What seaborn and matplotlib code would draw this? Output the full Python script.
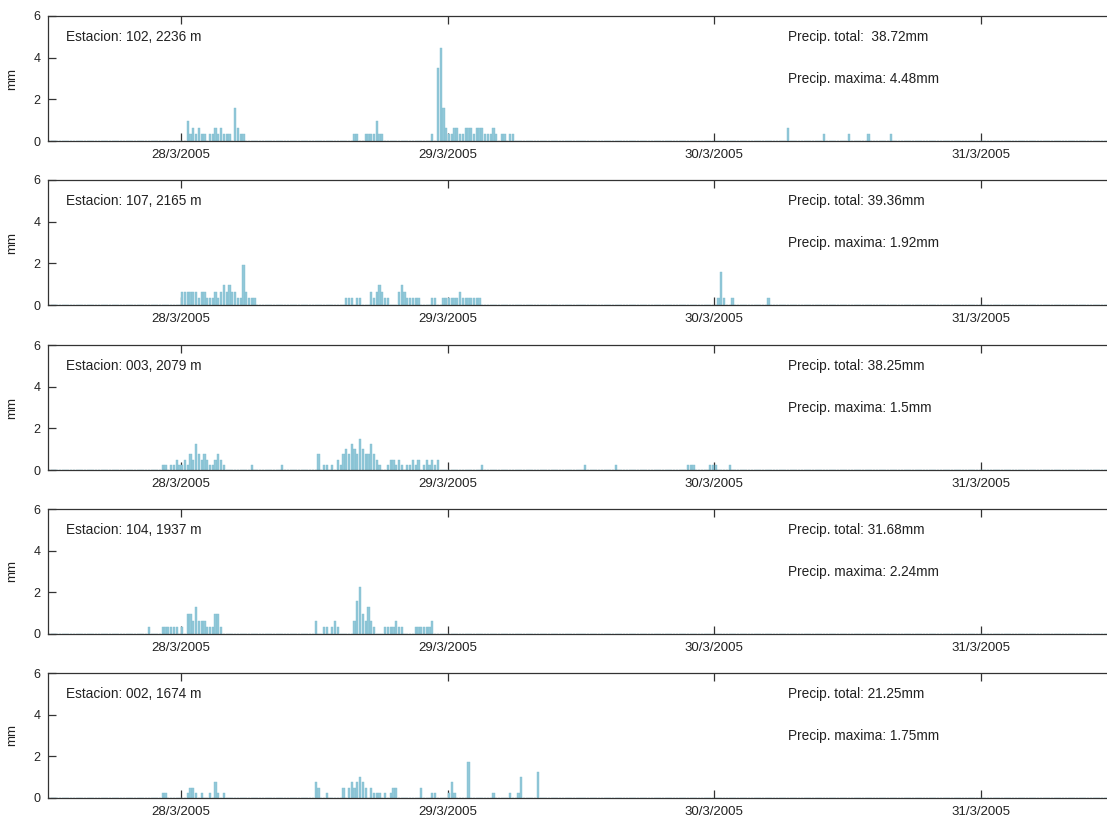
import numpy as np
import pandas as pd
import matplotlib
matplotlib.use("Agg")
import matplotlib.pyplot as plt
import seaborn as sns

# ---------------- data (hours since 28/3/2005 00:00, 15-min intervals) ----------------
stations = ["Estacion: 102, 2236 m", "Estacion: 107, 2165 m", "Estacion: 003, 2079 m",
            "Estacion: 104, 1937 m", "Estacion: 002, 1674 m"]
totals = ["Precip. total:  38.72mm", "Precip. total: 39.36mm", "Precip. total: 38.25mm",
          "Precip. total: 31.68mm", "Precip. total: 21.25mm"]
maxima = ["Precip. maxima: 4.48mm", "Precip. maxima: 1.92mm", "Precip. maxima: 1.5mm",
          "Precip. maxima: 2.24mm", "Precip. maxima: 1.75mm"]

t102 = [0.5, 0.75, 1.0, 1.25, 1.5, 1.75, 2.0, 2.5, 2.75, 3.0, 3.25, 3.5, 3.75, 4.0, 4.25,
        4.75, 5.0, 5.25, 5.5,
        15.5, 15.75, 16.5, 16.75, 17.0, 17.25, 17.5, 17.75, 18.0,
        22.5, 23.0, 23.25, 23.5, 23.75, 24.0, 24.25, 24.5, 24.75, 25.0, 25.25, 25.5, 25.75,
        26.0, 26.25, 26.5, 26.75, 27.0, 27.25, 27.5, 27.75, 28.0, 28.25, 28.75, 29.0, 29.5, 29.75,
        54.5, 57.75, 60.0, 61.75, 63.75]
v102 = [0.96, 0.32, 0.64, 0.32, 0.64, 0.32, 0.32, 0.32, 0.32, 0.64, 0.32, 0.64, 0.32, 0.32, 0.32,
        1.6, 0.64, 0.32, 0.32,
        0.32, 0.32, 0.32, 0.32, 0.32, 0.32, 0.96, 0.32, 0.32,
        0.32, 3.52, 4.48, 1.6, 0.64, 0.32, 0.32, 0.64, 0.64, 0.32, 0.32, 0.64, 0.64,
        0.64, 0.32, 0.64, 0.64, 0.64, 0.32, 0.32, 0.32, 0.64, 0.32, 0.32, 0.32, 0.32, 0.32,
        0.64, 0.32, 0.32, 0.32, 0.32]

t107 = [0.0, 0.25, 0.5, 0.75, 1.0, 1.25, 1.5, 1.75, 2.0, 2.25, 2.5, 2.75, 3.0, 3.25, 3.5, 3.75,
        4.0, 4.25, 4.5, 4.75, 5.0, 5.25, 5.5, 5.75, 6.0, 6.25, 6.5,
        14.75, 15.0, 15.25, 15.75, 16.0, 17.0, 17.25, 17.5, 17.75, 18.0, 18.25, 18.5,
        19.5, 19.75, 20.0, 20.25, 20.5, 20.75, 21.0, 21.25, 22.5, 22.75,
        23.5, 23.75, 24.0, 24.25, 24.5, 24.75, 25.0, 25.25, 25.5, 25.75, 26.0, 26.25, 26.5, 26.75,
        48.25, 48.5, 48.75, 49.5, 52.75]
v107 = [0.64, 0.64, 0.64, 0.64, 0.64, 0.64, 0.32, 0.64, 0.64, 0.32, 0.32, 0.32, 0.64, 0.32, 0.64, 0.96,
        0.64, 0.96, 0.64, 0.64, 0.32, 0.32, 1.92, 0.64, 0.32, 0.32, 0.32,
        0.32, 0.32, 0.32, 0.32, 0.32, 0.64, 0.32, 0.64, 0.96, 0.64, 0.32, 0.32,
        0.64, 0.96, 0.64, 0.32, 0.32, 0.32, 0.32, 0.32, 0.32, 0.32,
        0.32, 0.32, 0.32, 0.32, 0.32, 0.32, 0.64, 0.32, 0.32, 0.32, 0.32, 0.32, 0.32, 0.32,
        0.32, 1.6, 0.32, 0.32, 0.32]

t003 = [-1.75, -1.5, -1.0, -0.75, -0.5, -0.25, 0.0, 0.25, 0.5, 0.75, 1.0, 1.25, 1.5, 1.75, 2.0,
        2.25, 2.5, 2.75, 3.0, 3.25, 3.5, 3.75, 6.25, 9.0,
        12.25, 12.75, 13.0, 13.5, 14.0, 14.25, 14.5, 14.75, 15.0, 15.25, 15.5, 15.75, 16.0, 16.25,
        16.5, 16.75, 17.0, 17.25, 17.5, 17.75,
        18.5, 18.75, 19.0, 19.25, 19.5, 19.75, 20.25, 20.5, 20.75, 21.0, 21.25, 21.75, 22.0, 22.25,
        22.5, 22.75, 23.0, 27.0,
        36.25, 39.0, 45.5, 45.75, 46.0, 47.5, 47.75, 48.0, 49.25]
v003 = [0.25, 0.25, 0.25, 0.25, 0.5, 0.25, 0.25, 0.5, 0.25, 0.75, 0.5, 1.25, 0.75, 0.5, 0.75,
        0.5, 0.25, 0.25, 0.5, 0.75, 0.5, 0.25, 0.25, 0.25,
        0.75, 0.25, 0.25, 0.25, 0.5, 0.25, 0.75, 1.0, 0.75, 1.25, 1.0, 0.75, 1.5, 1.0,
        0.75, 0.75, 1.25, 0.75, 0.5, 0.25,
        0.25, 0.5, 0.5, 0.25, 0.5, 0.25, 0.25, 0.25, 0.5, 0.25, 0.5, 0.25, 0.5, 0.25,
        0.5, 0.25, 0.5, 0.25,
        0.25, 0.25, 0.25, 0.25, 0.25, 0.25, 0.25, 0.25, 0.25]

t104 = [-3.0, -1.75, -1.5, -1.25, -1.0, -0.75, -0.5, 0.0, 0.5, 0.75, 1.0, 1.25, 1.5, 1.75, 2.0,
        2.25, 2.5, 2.75, 3.0, 3.25, 3.5,
        12.0, 12.75, 13.0, 13.5, 13.75, 14.0, 15.5, 15.75, 16.0, 16.25, 16.5, 16.75, 17.0, 17.25,
        18.25, 18.5, 18.75, 19.0, 19.25, 19.5, 19.75, 21.0, 21.25, 21.5, 21.75, 22.0, 22.25, 22.5]
v104 = [0.32, 0.32, 0.32, 0.32, 0.32, 0.32, 0.32, 0.32, 0.96, 0.96, 0.64, 1.28, 0.64, 0.64, 0.64,
        0.32, 0.32, 0.32, 0.96, 0.96, 0.32,
        0.64, 0.32, 0.32, 0.32, 0.64, 0.32, 0.64, 1.6, 2.24, 0.96, 0.64, 1.28, 0.64, 0.32,
        0.32, 0.32, 0.32, 0.32, 0.64, 0.32, 0.32, 0.32, 0.32, 0.32, 0.32, 0.32, 0.32, 0.64]

t002 = [-1.75, -1.5, 0.5, 0.75, 1.0, 1.25, 1.75, 2.5, 3.0, 3.25, 3.75,
        12.0, 12.25, 13.0, 14.5, 15.0, 15.25, 15.5, 15.75, 16.0, 16.25, 16.5, 17.0, 17.25, 17.5,
        17.75, 18.25, 18.75, 19.0, 19.25,
        21.5, 22.5, 22.75, 24.0, 24.25, 24.5, 25.75, 28.0, 29.5, 30.25, 30.5, 32.0]
v002 = [0.25, 0.25, 0.25, 0.5, 0.5, 0.25, 0.25, 0.25, 0.75, 0.25, 0.25,
        0.75, 0.5, 0.25, 0.5, 0.5, 0.75, 0.5, 0.75, 1.0, 0.75, 0.5, 0.5, 0.25, 0.25,
        0.25, 0.25, 0.25, 0.5, 0.5,
        0.5, 0.25, 0.25, 0.25, 0.75, 0.25, 1.75, 0.25, 0.25, 0.25, 1.0, 1.25]

series = [(t102, v102), (t107, v107), (t003, v003), (t104, v104), (t002, v002)]

day_ticks = [0, 24, 48, 72]
day_labels = ["28/3/2005", "29/3/2005", "30/3/2005", "31/3/2005"]

# ---------------- style ----------------
sns.set_theme(style="white")
plt.rcParams["font.family"] = ["Liberation Sans", "DejaVu Sans"]
TXT = "#222222"
FILL = "#92c8d8"
EDGE = "#7dbccf"

W, H = 1107, 818
fig = plt.figure(figsize=(W / 100, H / 100), dpi=100)

x0, x1 = -12.0, 84.0
left_px, right_px = 47.5, 1114.5
tops = [16, 180, 345, 509, 673]
ph = 125

for i, ((t, v), st, tot, mx) in enumerate(zip(series, stations, totals, maxima)):
    ax = fig.add_axes([left_px / W, 1 - (tops[i] + ph) / H,
                       (right_px - left_px) / W, ph / H])
    df = pd.DataFrame({"t": np.asarray(t, float) + 0.125, "mm": v})
    sns.histplot(data=df, x="t", weights="mm", binwidth=0.25, binrange=(x0, x1),
                 ax=ax, color=FILL, edgecolor=EDGE, linewidth=0.3, alpha=1.0,
                 shrink=0.8)
    ax.set_xlim(x0, x1)
    ax.set_ylim(0, 6)
    ax.set_yticks([0, 2, 4, 6])
    ax.set_xticks(day_ticks)
    ax.set_xticklabels(day_labels)
    ax.set_xlabel("")
    ax.set_ylabel("mm", fontsize=9.5, color=TXT, labelpad=11)
    ax.tick_params(direction="in", bottom=True, left=True, top=True, right=True,
                   length=6, width=0.9, colors="#333333", labelcolor=TXT, pad=5)
    ax.tick_params(axis="x", labelsize=9.5, pad=6)
    ax.tick_params(axis="y", labelsize=9, pad=5)
    for s in ax.spines.values():
        s.set_color("#333333")
        s.set_linewidth(0.9)
        s.set_visible(True)
    ax.text(0.0170, 0.832, st, transform=ax.transAxes, fontsize=9.8, color=TXT,
            va="center", ha="left")
    ax.text(0.694, 0.832, tot, transform=ax.transAxes, fontsize=9.8, color=TXT,
            va="center", ha="left")
    ax.text(0.694, 0.496, mx, transform=ax.transAxes, fontsize=9.8, color=TXT,
            va="center", ha="left")

fig.savefig("out.png", dpi=100, facecolor="white")
